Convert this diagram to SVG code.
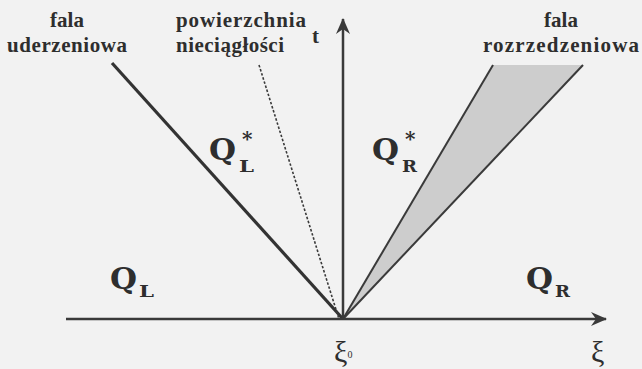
<svg xmlns="http://www.w3.org/2000/svg" width="642" height="369" viewBox="0 0 642 369">
<style>
.lbl{font-family:"Liberation Serif",serif;font-weight:bold;font-size:21px;fill:#2e2e2e}
.q{font-family:"DejaVu Serif",serif;font-weight:bold;fill:#2e2e2e}
.gk{font-family:"Liberation Serif",serif;font-size:30px;fill:#2e2e2e}
.ax{stroke:#3a3a3a;stroke-width:2.5;fill:none}
</style>
<defs>
<marker id="ah" viewBox="0 0 16 14" refX="15" refY="7" markerWidth="16" markerHeight="14" markerUnits="userSpaceOnUse" orient="auto">
<path d="M0,0 L16,7 L0,14 L5,7 Z" fill="#3a3a3a"/>
</marker>
</defs>
<rect width="642" height="369" fill="#f2f2f2"/>
<g id="connectors">
<path id="rarefaction-fan" d="M493,65 L583,65 L343,319 Z" fill="#cdcdcd"/>
<line x1="493" y1="65" x2="343" y2="319" stroke="#3a3a3a" stroke-width="2"/>
<line x1="583" y1="65" x2="343" y2="319" stroke="#3a3a3a" stroke-width="2"/>
<line x1="112" y1="63" x2="343" y2="319" stroke="#333" stroke-width="3.2"/>
<line x1="259" y1="65" x2="339" y2="319" stroke="#3a3a3a" stroke-width="1.6" stroke-dasharray="2.5,1.8"/>
<line class="ax" x1="343" y1="320" x2="343" y2="19" marker-end="url(#ah)"/>
<line class="ax" x1="66" y1="319" x2="606" y2="319" marker-end="url(#ah)"/>
</g>
<g id="shock-label">
<text class="lbl" x="67" y="27" text-anchor="middle">fala</text>
<text class="lbl" x="67" y="52" text-anchor="middle" textLength="120" lengthAdjust="spacing">uderzeniowa</text>
</g>
<g id="contact-label">
<text class="lbl" x="176" y="27" textLength="130" lengthAdjust="spacing">powierzchnia</text>
<text class="lbl" x="176" y="52" textLength="108" lengthAdjust="spacing">nieciągłości</text>
</g>
<g id="rarefaction-label">
<text class="lbl" x="561" y="27" text-anchor="middle">fala</text>
<text class="lbl" x="561" y="52" text-anchor="middle" textLength="156" lengthAdjust="spacing">rozrzedzeniowa</text>
</g>
<g id="axis-t"><text class="lbl" x="312" y="43" font-size="23">t</text></g>
<g id="QLstar">
<text class="q" x="209" y="160" font-size="29" textLength="27" lengthAdjust="spacingAndGlyphs">Q</text>
<text class="q" x="242" y="146" font-size="20">*</text>
<text class="q" x="239" y="172" font-size="17" textLength="15" lengthAdjust="spacingAndGlyphs">L</text>
</g>
<g id="QRstar">
<text class="q" x="372" y="160" font-size="29" textLength="27" lengthAdjust="spacingAndGlyphs">Q</text>
<text class="q" x="405" y="146" font-size="20">*</text>
<text class="q" x="402" y="172" font-size="17" textLength="15" lengthAdjust="spacingAndGlyphs">R</text>
</g>
<g id="QL">
<text class="q" x="110" y="289" font-size="29" textLength="27" lengthAdjust="spacingAndGlyphs">Q</text>
<text class="q" x="139" y="297" font-size="17" textLength="15" lengthAdjust="spacingAndGlyphs">L</text>
</g>
<g id="QR">
<text class="q" x="526" y="289" font-size="29" textLength="27" lengthAdjust="spacingAndGlyphs">Q</text>
<text class="q" x="555" y="297" font-size="17" textLength="15" lengthAdjust="spacingAndGlyphs">R</text>
</g>
<g id="xi0"><text class="gk" x="334" y="362">ξ<tspan font-size="10" dy="-4">0</tspan></text></g>
<g id="xi"><text class="gk" x="591" y="362">ξ</text></g>
</svg>
